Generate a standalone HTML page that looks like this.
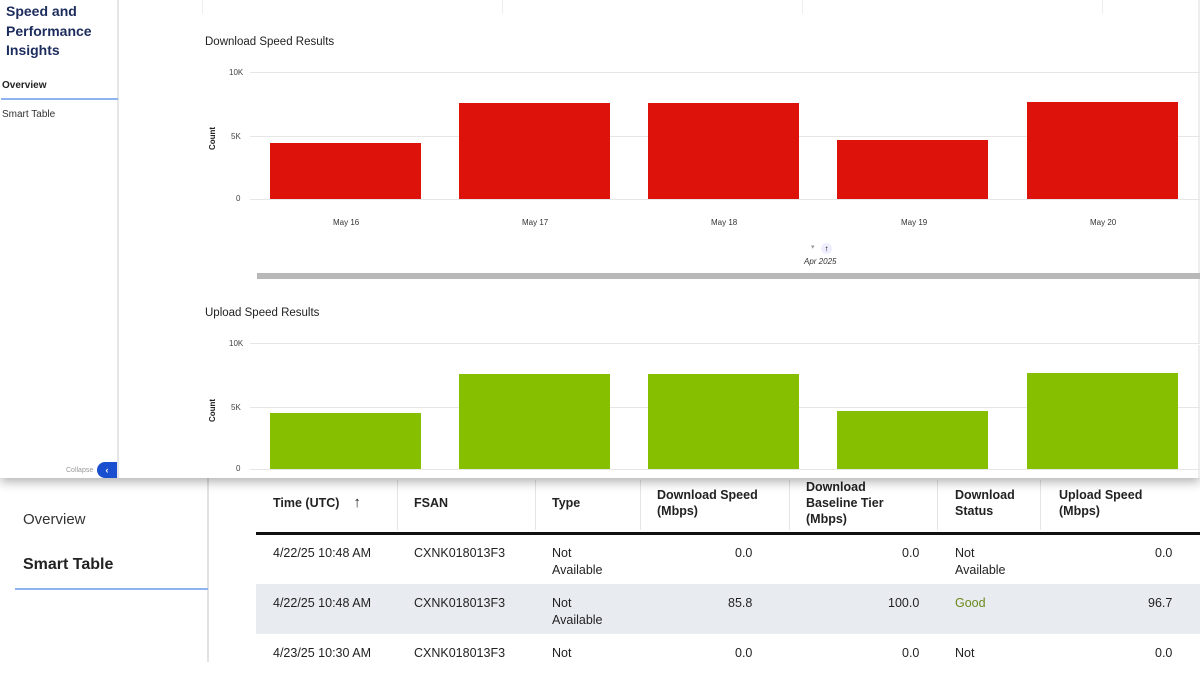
<!DOCTYPE html>
<html><head><style>
*{margin:0;padding:0;box-sizing:border-box}
body{width:1200px;height:675px;position:relative;overflow:hidden;background:#fff;font-family:"Liberation Sans",sans-serif}
.a{position:absolute}
.t{position:absolute;white-space:nowrap}
</style></head><body>
<!-- bottom layer -->
<div class="a" style="left:207px;top:478px;width:2px;height:184px;background:#e2e2e2"></div>
<div class="t" style="left:23px;top:511px;font-size:15px;color:#333">Overview</div>
<div class="t" style="left:23px;top:556px;font-size:16px;font-weight:bold;color:#222">Smart Table</div>
<div class="a" style="left:15px;top:588px;width:193px;height:2px;background:#8fb3f0"></div>
<div class="a" style="left:256px;top:584px;width:944px;height:50px;background:#e8ebf0"></div>
<div class="a" style="left:256px;top:532px;width:944px;height:3px;background:#111"></div>
<div class="a" style="left:397px;top:480px;width:1px;height:50px;background:#e4e4e4"></div>
<div class="a" style="left:535px;top:480px;width:1px;height:50px;background:#e4e4e4"></div>
<div class="a" style="left:640px;top:480px;width:1px;height:50px;background:#e4e4e4"></div>
<div class="a" style="left:789px;top:480px;width:1px;height:50px;background:#e4e4e4"></div>
<div class="a" style="left:937px;top:480px;width:1px;height:50px;background:#e4e4e4"></div>
<div class="a" style="left:1040px;top:480px;width:1px;height:50px;background:#e4e4e4"></div>
<div style="font-size:12.5px;font-weight:bold;color:#222;line-height:16px">
<div class="t" style="left:273px;top:495px">Time (UTC) &nbsp;&nbsp;&nbsp;<span style="font-size:15px">↑</span></div>
<div class="t" style="left:414px;top:495px">FSAN</div>
<div class="t" style="left:552px;top:495px">Type</div>
<div class="t" style="left:657px;top:487px">Download Speed<br>(Mbps)</div>
<div class="t" style="left:806px;top:479px">Download<br>Baseline Tier<br>(Mbps)</div>
<div class="t" style="left:955px;top:487px">Download<br>Status</div>
<div class="t" style="left:1059px;top:487px">Upload Speed<br>(Mbps)</div>
</div>
<div style="font-size:12.5px;color:#222;line-height:17px">
<div class="t" style="left:273px;top:545px">4/22/25 10:48 AM</div>
<div class="t" style="left:414px;top:545px">CXNK018013F3</div>
<div class="t" style="left:552px;top:545px">Not<br>Available</div>
<div class="t" style="left:735px;top:545px">0.0</div>
<div class="t" style="left:902px;top:545px">0.0</div>
<div class="t" style="left:955px;top:545px">Not<br>Available</div>
<div class="t" style="left:1155px;top:545px">0.0</div>
<div class="t" style="left:273px;top:595px">4/22/25 10:48 AM</div>
<div class="t" style="left:414px;top:595px">CXNK018013F3</div>
<div class="t" style="left:552px;top:595px">Not<br>Available</div>
<div class="t" style="left:728px;top:595px">85.8</div>
<div class="t" style="left:888px;top:595px">100.0</div>
<div class="t" style="left:955px;top:595px;color:#6a8a1a">Good</div>
<div class="t" style="left:1148px;top:595px">96.7</div>
<div class="t" style="left:273px;top:645px">4/23/25 10:30 AM</div>
<div class="t" style="left:414px;top:645px">CXNK018013F3</div>
<div class="t" style="left:552px;top:645px">Not</div>
<div class="t" style="left:735px;top:645px">0.0</div>
<div class="t" style="left:902px;top:645px">0.0</div>
<div class="t" style="left:955px;top:645px">Not</div>
<div class="t" style="left:1155px;top:645px">0.0</div>
</div>
<!-- top panel -->
<div class="a" style="left:0;top:0;width:1200px;height:478px;background:#fff;box-shadow:0 4px 10px rgba(0,0,0,0.3);overflow:hidden">
<div class="a" style="left:117px;top:0;width:2px;height:478px;background:#e6e6e6"></div>
<div class="t" style="left:6px;top:2px;font-size:14px;font-weight:bold;color:#1c2c5c;line-height:19.5px">Speed and<br>Performance<br>Insights</div>
<div class="t" style="left:2px;top:80px;font-size:10px;font-weight:bold;color:#222">Overview</div>
<div class="a" style="left:1px;top:98px;width:117px;height:2px;background:#8fb3f0"></div>
<div class="t" style="left:2px;top:109px;font-size:10px;color:#333">Smart Table</div>
<div class="t" style="left:66px;top:467px;font-size:7px;color:#999">Collapse</div>
<div class="a" style="left:97px;top:462px;width:20px;height:16px;background:#1a4fd0;border-radius:9px 0 0 9px;color:#fff;font-size:9px;text-align:center;line-height:16px;font-weight:bold">‹</div>
<div class="a" style="left:202px;top:0;width:1px;height:14px;background:#eee"></div>
<div class="a" style="left:502px;top:0;width:1px;height:14px;background:#eee"></div>
<div class="a" style="left:802px;top:0;width:1px;height:14px;background:#eee"></div>
<div class="a" style="left:1102px;top:0;width:1px;height:14px;background:#eee"></div>
<div class="a" style="left:1198px;top:0;width:2px;height:478px;background:#eee"></div>

<div class="t" style="left:205px;top:36px;font-size:11.5px;color:#222">Download Speed Results</div>
<div class="t" style="left:229px;top:68px;font-size:8px;color:#444">10K</div>
<div class="t" style="left:231px;top:132px;font-size:8px;color:#444">5K</div>
<div class="t" style="left:236px;top:194px;font-size:8px;color:#444">0</div>
<div class="t" style="left:208px;top:150px;font-size:8px;font-weight:bold;color:#222;transform:rotate(-90deg);transform-origin:left top">Count</div>
<div class="a" style="left:250px;top:72px;width:950px;height:1px;background:#e6e6e6"></div>
<div class="a" style="left:250px;top:136px;width:950px;height:1px;background:#e6e6e6"></div>
<div class="a" style="left:250px;top:199px;width:950px;height:1px;background:#e6e6e6"></div>
<div class="a" style="left:270px;top:143px;width:151px;height:56px;background:#dd130b"></div>
<div class="a" style="left:459px;top:103px;width:151px;height:96px;background:#dd130b"></div>
<div class="a" style="left:648px;top:103px;width:151px;height:96px;background:#dd130b"></div>
<div class="a" style="left:837px;top:140px;width:151px;height:59px;background:#dd130b"></div>
<div class="a" style="left:1027px;top:102px;width:151px;height:97px;background:#dd130b"></div>
<div class="t" style="left:333px;top:218px;font-size:8px;color:#333">May 16</div>
<div class="t" style="left:522px;top:218px;font-size:8px;color:#333">May 17</div>
<div class="t" style="left:711px;top:218px;font-size:8px;color:#333">May 18</div>
<div class="t" style="left:901px;top:218px;font-size:8px;color:#333">May 19</div>
<div class="t" style="left:1090px;top:218px;font-size:8px;color:#333">May 20</div>
<div class="t" style="left:811px;top:243px;font-size:7px;color:#999">▾</div>
<div class="a" style="left:821px;top:243px;width:11px;height:11px;border-radius:50%;background:#eef;color:#000;font-size:8px;text-align:center;line-height:11px;font-weight:bold">↑</div>
<div class="t" style="left:804px;top:257px;font-size:8px;font-style:italic;color:#333">Apr 2025</div>
<div class="a" style="left:257px;top:273px;width:943px;height:6px;background:#b8b8b8"></div>
<div class="a" style="left:200px;top:344px;width:1000px;height:1px;background:#fff"></div>

<div class="t" style="left:205px;top:307px;font-size:11.5px;color:#222">Upload Speed Results</div>
<div class="t" style="left:229px;top:339px;font-size:8px;color:#444">10K</div>
<div class="t" style="left:231px;top:403px;font-size:8px;color:#444">5K</div>
<div class="t" style="left:236px;top:464px;font-size:8px;color:#444">0</div>
<div class="t" style="left:208px;top:422px;font-size:8px;font-weight:bold;color:#222;transform:rotate(-90deg);transform-origin:left top">Count</div>
<div class="a" style="left:250px;top:343px;width:950px;height:1px;background:#e6e6e6"></div>
<div class="a" style="left:250px;top:407px;width:950px;height:1px;background:#e6e6e6"></div>
<div class="a" style="left:250px;top:469px;width:950px;height:1px;background:#e6e6e6"></div>
<div class="a" style="left:270px;top:413px;width:151px;height:56px;background:#86be00"></div>
<div class="a" style="left:459px;top:374px;width:151px;height:95px;background:#86be00"></div>
<div class="a" style="left:648px;top:374px;width:151px;height:95px;background:#86be00"></div>
<div class="a" style="left:837px;top:411px;width:151px;height:58px;background:#86be00"></div>
<div class="a" style="left:1027px;top:373px;width:151px;height:96px;background:#86be00"></div>
</div>
</body></html>
